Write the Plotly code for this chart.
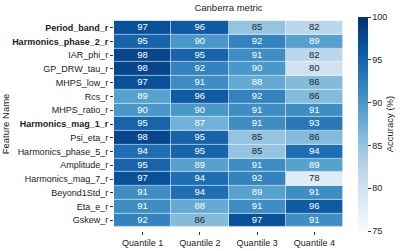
import plotly.graph_objects as go

features = ["Period_band_r", "Harmonics_phase_2_r", "IAR_phi_r", "GP_DRW_tau_r", "MHPS_low_r",
            "Rcs_r", "MHPS_ratio_r", "Harmonics_mag_1_r", "Psi_eta_r", "Harmonics_phase_5_r",
            "Amplitude_r", "Harmonics_mag_7_r", "Beyond1Std_r", "Eta_e_r", "Gskew_r"]
bold_features = ["Period_band_r", "Harmonics_phase_2_r", "Harmonics_mag_1_r"]
quantiles = ["Quantile 1", "Quantile 2", "Quantile 3", "Quantile 4"]
q1 = [97, 95, 98, 98, 97, 89, 90, 95, 98, 94, 95, 97, 91, 91, 92]
q2 = [96, 90, 95, 92, 91, 96, 90, 87, 95, 95, 89, 94, 94, 88, 86]
q3 = [85, 92, 91, 90, 88, 92, 91, 91, 85, 85, 91, 92, 89, 91, 97]
q4 = [82, 89, 82, 80, 86, 86, 91, 93, 86, 94, 89, 78, 91, 96, 91]
cbar_ticks = [75, 80, 85, 90, 95, 100]

cols = [q1, q2, q3, q4]
z = [[cols[j][i] for j in range(4)] for i in range(len(features))]

blues = [[0.0, "#f7fbff"], [0.125, "#deebf7"], [0.25, "#c6dbef"], [0.375, "#9ecae1"],
         [0.5, "#6baed6"], [0.625, "#4292c6"], [0.75, "#2171b5"], [0.875, "#08519c"],
         [1.0, "#08306b"]]

font = "Liberation Sans, Arial, sans-serif"

fig = go.Figure()
fig.add_trace(go.Heatmap(
    z=z, x=quantiles, y=features, colorscale=blues, zmin=75, zmax=100,
    xgap=0.6, ygap=0.6,
    colorbar=dict(
        x=1.0, xanchor="left", xpad=15, ypad=0, thickness=10, len=1.0, lenmode="fraction",
        y=0.5, yanchor="middle", outlinewidth=0, tickvals=cbar_ticks,
        ticks="outside", ticklen=3, tickcolor="#333", tickwidth=1,
        tickfont=dict(size=9, color="#222", family=font),
        title=dict(text="Accuracy (%)", side="right", font=dict(size=9.5, color="#222", family=font)),
    ),
    hoverinfo="skip",
))

xs, ys, txt, colors = [], [], [], []
for i, f in enumerate(features):
    for j, q in enumerate(quantiles):
        v = z[i][j]
        xs.append(q)
        ys.append(f)
        txt.append(str(v))
        colors.append("white" if v >= 87 else "#262626")
fig.add_trace(go.Scatter(x=xs, y=ys, text=txt, mode="text",
                         textfont=dict(size=9.5, color=colors, family=font),
                         hoverinfo="skip", showlegend=False))

ticktext = [f"<b>{f}</b>" if f in bold_features else f for f in features]
fig.update_yaxes(autorange="reversed", tickvals=features, ticktext=ticktext, automargin=False,
                 ticks="outside", ticklen=3, tickcolor="#333",
                 tickfont=dict(size=9, color="#222", family=font), showgrid=False, zeroline=False,
                 title=dict(text="Feature Name", font=dict(size=9.5, color="#222", family=font), standoff=1))
fig.update_xaxes(ticks="outside", ticklen=3, tickcolor="#333", automargin=False,
                 tickfont=dict(size=9, color="#222", family=font), showgrid=False, zeroline=False)
fig.update_layout(
    width=407, height=251, margin=dict(l=114, r=64, t=17, b=20, autoexpand=False),
    paper_bgcolor="white", plot_bgcolor="white",
    title=dict(text="Canberra metric", x=0.5, xref="paper", y=0.968, yanchor="middle",
               font=dict(size=9.5, color="#222", family=font)),
    showlegend=False,
)
fig.write_html("out.html", config={"displayModeBar": False},
               post_script="document.body.style.margin='0';")
